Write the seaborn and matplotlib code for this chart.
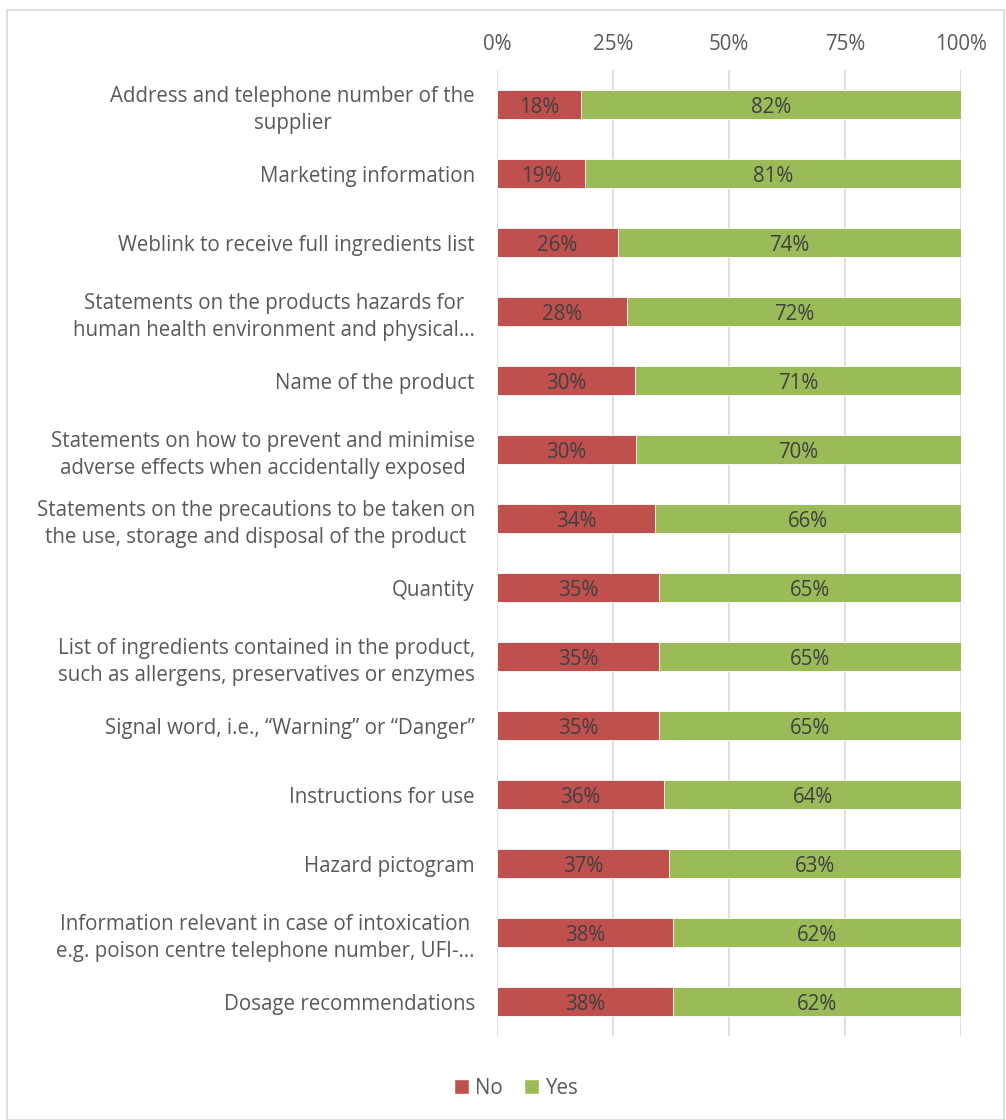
import matplotlib
matplotlib.use("Agg")
import matplotlib.pyplot as plt
import seaborn as sns
import pandas as pd
from matplotlib.patches import Rectangle, Patch

categories = [
    "Address and telephone number of the\nsupplier",
    "Marketing information",
    "Weblink to receive full ingredients list",
    "Statements on the products hazards for\nhuman health environment and physical…",
    "Name of the product",
    "Statements on how to prevent and minimise\nadverse effects when accidentally exposed",
    "Statements on the precautions to be taken on\nthe use, storage and disposal of the product",
    "Quantity",
    "List of ingredients contained in the product,\nsuch as allergens, preservatives or enzymes",
    "Signal word, i.e., \u201cWarning\u201d or \u201cDanger\u201d",
    "Instructions for use",
    "Hazard pictogram",
    "Information relevant in case of intoxication\ne.g. poison centre telephone number, UFI-…",
    "Dosage recommendations",
]
no_pct = [18, 19, 26, 28, 30, 30, 34, 35, 35, 35, 36, 37, 38, 38]
yes_pct = [82, 81, 74, 72, 71, 70, 66, 65, 65, 65, 64, 63, 62, 62]
x_ticks = [0, 25, 50, 75, 100]

df = pd.DataFrame({"cat": categories, "no": no_pct, "yes": yes_pct})
df["no_share"] = df["no"] / (df["no"] + df["yes"]) * 100
df["total"] = 100.0

sns.set_theme(style="white")
plt.rcParams["font.family"] = ["Open Sans", "DejaVu Sans"]

RED = "#C0504D"
GREEN = "#9BBB59"
TXT = "#595959"
LBL = "#404040"
FS = 14.8

fig = plt.figure(figsize=(10.06, 11.2), dpi=100)
ax = fig.add_axes([497 / 1006, 1 - 1036 / 1120, (961 - 497) / 1006, (1036 - 70) / 1120])

sns.barplot(data=df, y="cat", x="total", color=GREEN, orient="h", width=0.41,
            saturation=1, ax=ax, zorder=2)
sns.barplot(data=df, y="cat", x="no_share", color=RED, orient="h", width=0.41,
            saturation=1, ax=ax, zorder=3)
for p in ax.patches:
    p.set_edgecolor("white")
    p.set_linewidth(0.6)

for i, row in df.iterrows():
    ax.text(row["no_share"] / 2, i, f"{row['no']}%", ha="center", va="center_baseline",
            fontsize=FS, color=LBL, zorder=5)
    ax.text(row["no_share"] + (100 - row["no_share"]) / 2, i, f"{row['yes']}%",
            ha="center", va="center_baseline", fontsize=FS, color=LBL, zorder=5)

ax.set_xlim(0, 100)
ax.set_ylim(len(categories) - 0.5, -0.5)
ax.set_xticks(x_ticks)
ax.set_xticklabels([f"{t}%" for t in x_ticks], fontsize=FS, color=TXT)
ax.xaxis.tick_top()
ax.tick_params(axis="x", length=0, pad=11)
ax.tick_params(axis="y", length=0, pad=16, labelsize=FS, labelcolor=TXT)
for lab in ax.get_yticklabels():
    lab.set_multialignment("center")
    lab.set_linespacing(1.35)
ax.set_xlabel("")
ax.set_ylabel("")
ax.grid(axis="x", color="#D9D9D9", linewidth=1.2, zorder=0)
ax.set_axisbelow(True)
for s in ax.spines.values():
    s.set_visible(False)

handles = [Patch(facecolor=RED, label="No"), Patch(facecolor=GREEN, label="Yes")]
fig.legend(handles=handles, loc="center", bbox_to_anchor=(516 / 1006, 1 - 1088 / 1120),
           ncol=2, frameon=False, fontsize=FS, handlelength=0.75, handleheight=0.75,
           handletextpad=0.3, columnspacing=1.0, labelcolor=TXT)

fig.patches.append(Rectangle((7 / 1006, 0), (1004 - 7) / 1006, 1 - 10 / 1120,
                             transform=fig.transFigure, fill=False,
                             edgecolor="#D9D9D9", linewidth=1.2))

fig.savefig("out.png", dpi=100)
